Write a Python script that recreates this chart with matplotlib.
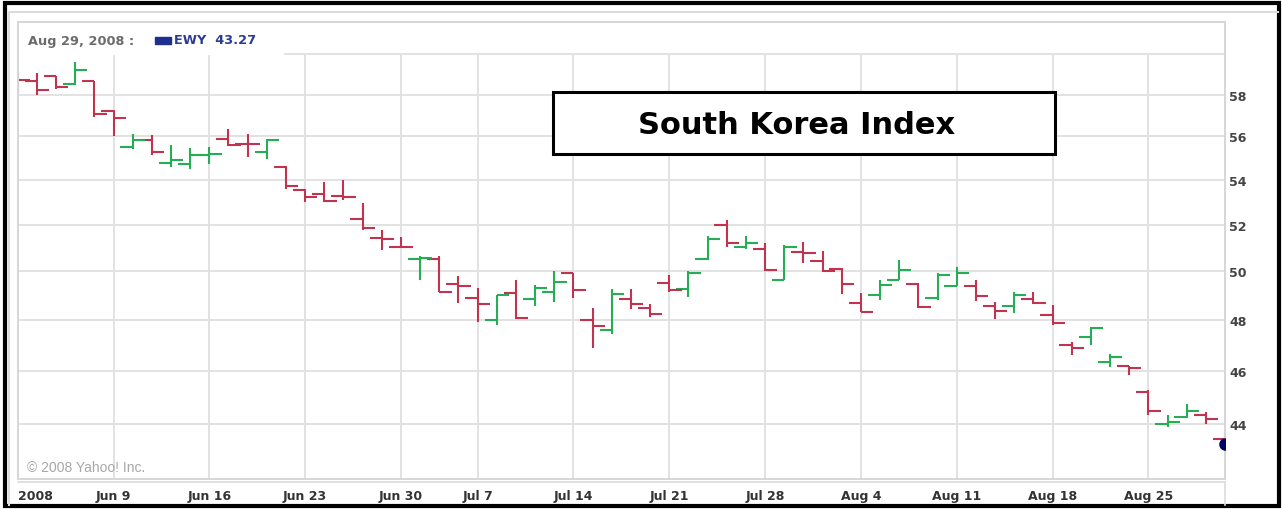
import matplotlib
matplotlib.use("Agg")
import matplotlib.pyplot as plt
from matplotlib.patches import Rectangle
from matplotlib.lines import Line2D
from matplotlib.ticker import NullLocator

# EWY daily OHLC, Jun 2 - Aug 29 2008 (trading days)
opens = [58.90, 58.69, 58.90, 58.52, 58.69, 57.19, 55.49, 55.81, 54.78, 54.70,
         55.13, 55.86, 55.66, 55.27, 54.58, 53.52, 53.38, 53.29, 52.25, 51.44,
         51.05, 50.53, 50.53, 49.47, 48.91, 48.00, 49.10, 48.84, 49.16, 49.95,
         48.01, 47.58, 48.84, 48.48, 49.53, 49.28, 50.53, 51.99, 51.04, 50.93,
         49.66, 50.82, 50.45, 50.10, 48.70, 49.00, 49.66, 49.48, 48.89, 49.41,
         49.41, 48.56, 48.56, 48.86, 48.21, 47.01, 47.33, 46.33, 46.17, 45.17,
         44.00, 44.23, 44.33, 43.42]
highs = [59.13, 59.07, 58.90, 59.63, 58.69, 57.24, 56.12, 56.07, 55.58, 55.46,
         55.51, 56.36, 56.12, 55.86, 54.63, 53.59, 53.92, 54.00, 52.97, 51.79,
         51.46, 50.65, 50.67, 49.82, 49.30, 49.03, 49.62, 49.44, 50.00, 49.95,
         48.48, 49.25, 49.25, 48.66, 49.85, 50.00, 51.50, 52.22, 51.53, 51.22,
         51.13, 51.27, 50.86, 50.13, 49.11, 49.65, 50.46, 49.50, 49.92, 50.18,
         49.62, 48.73, 49.16, 49.14, 48.59, 47.14, 47.71, 46.66, 46.20, 45.25,
         44.33, 44.72, 44.43, 43.69]
lows = [58.07, 57.99, 58.28, 58.47, 56.92, 56.04, 55.43, 55.12, 54.58, 54.47,
        54.73, 55.55, 55.04, 54.97, 53.56, 53.00, 53.00, 53.07, 51.79, 50.89,
        51.00, 49.66, 49.14, 48.70, 47.93, 47.81, 48.05, 48.56, 48.75, 48.89,
        46.88, 47.45, 48.45, 48.11, 49.14, 48.93, 50.50, 51.03, 50.96, 50.00,
        49.64, 50.36, 49.99, 49.07, 48.32, 48.82, 49.64, 48.49, 48.82, 49.39,
        48.79, 48.04, 48.29, 48.66, 47.80, 46.62, 46.99, 46.13, 45.84, 44.33,
        43.87, 44.21, 43.99, 43.10]
closes = [58.74, 58.21, 58.36, 59.23, 57.05, 56.87, 55.81, 55.27, 54.92, 55.15,
          55.19, 55.61, 55.63, 55.81, 53.74, 53.22, 53.03, 53.22, 51.85, 51.37,
          51.02, 50.57, 49.16, 49.41, 48.65, 49.00, 48.07, 49.30, 49.55, 49.23,
          47.76, 49.08, 48.65, 48.26, 49.21, 49.92, 51.39, 51.19, 51.19, 50.05,
          51.04, 50.79, 50.00, 49.48, 48.33, 49.45, 50.06, 48.51, 49.85, 49.93,
          48.96, 48.38, 49.03, 48.70, 47.88, 46.90, 47.68, 46.53, 46.12, 44.45,
          44.05, 44.47, 44.17, 43.27]

# week starts (index of trading day) and their labels
week_idx = [0, 5, 10, 15, 20, 24, 29, 34, 39, 44, 49, 54, 59]
week_labels = ["2008", "Jun 9", "Jun 16", "Jun 23", "Jun 30", "Jul 7", "Jul 14",
               "Jul 21", "Jul 28", "Aug 4", "Aug 11", "Aug 18", "Aug 25"]
y_ticks = [44, 46, 48, 50, 52, 54, 56, 58]
grid_levels = [44, 46, 48, 50, 52, 54, 56, 58, 60]

RED = "#c23350"
GREEN = "#27ad55"
GRID = "#e2e2e2"
W, H = 1282, 510


def fx(x):
    return x / W


def fy(y):
    return 1 - y / H


fig = plt.figure(figsize=(12.82, 5.10), dpi=100)

ax = fig.add_axes([fx(17.7), fy(480), fx(1225) - fx(17.7), fy(23) - fy(480)])
ax.set_yscale("log")
ax.set_xlim(0, 63)
ax.set_ylim(42.0, 61.65)

for lv in grid_levels:
    ax.axhline(lv, color=GRID, lw=1.4, zorder=0)
ax.vlines(week_idx[1:], 42.0, 60, color=GRID, lw=1.4, zorder=0)

days = list(range(len(opens)))
colors = [GREEN if c > o else RED for o, c in zip(opens, closes)]
tick = 0.64
ax.vlines(days, lows, highs, colors=colors, lw=1.5, zorder=2)
ax.hlines(opens, [d - tick for d in days], days, colors=colors, lw=1.5, zorder=2)
ax.hlines(closes, days, [d + tick for d in days], colors=colors, lw=1.5, zorder=2)

ax.plot(days[-1], closes[-1], "o", color="#000066", ms=8, zorder=3, clip_on=True)

for s in ax.spines.values():
    s.set_color("#d6d6d6")
    s.set_linewidth(1.4)

ax.yaxis.tick_right()
ax.yaxis.set_minor_locator(NullLocator())
ax.set_yticks(y_ticks)
ax.set_yticklabels([str(v) for v in y_ticks], fontsize=9,
                   fontweight="bold", color="#444444")
ax.tick_params(axis="y", length=0, pad=3)

ax.set_xticks(week_idx)
ax.set_xticklabels(week_labels, fontsize=9, fontweight="bold", color="#333333")
ax.tick_params(axis="x", length=0, pad=7)
ax.get_xticklabels()[0].set_ha("left")

# header with last quote
ax.add_patch(Rectangle((0.0, 0.93), 0.22, 0.07, transform=ax.transAxes,
                       color="white", zorder=1))
fig.text(fx(28), fy(41), "Aug 29, 2008 :", fontsize=9.3, fontweight="bold",
         color="#6b6b6b", va="center")
fig.add_artist(Rectangle((fx(155), fy(45)), fx(16), fy(38) - fy(45),
                         transform=fig.transFigure, color="#1f2f8f"))
fig.text(fx(174), fy(41), "EWY  43.27", fontsize=9.3, fontweight="bold",
         color="#2b3c96", va="center")

fig.text(fx(27), fy(468), "\u00a9 2008 Yahoo! Inc.", fontsize=10,
         family="Liberation Sans", color="#a8a8a8", va="center")

# title box
fig.add_artist(Rectangle((fx(553), fy(155)), fx(502), fy(93) - fy(155),
                         transform=fig.transFigure, facecolor="white",
                         edgecolor="black", lw=2.2, zorder=5))
fig.text(fx(797), fy(125), "South Korea Index", fontsize=22, fontweight="bold",
         ha="center", va="center", zorder=6)

# panel borders and outer frame
fig.add_artist(Line2D([fx(17.7), fx(1225)], [fy(483), fy(483)],
                      transform=fig.transFigure, color="#dcdcdc", lw=1.2))
fig.add_artist(Line2D([fx(1225), fx(1225)], [fy(483), fy(506)],
                      transform=fig.transFigure, color="#dcdcdc", lw=1.2))
fig.add_artist(Line2D([fx(9), fx(9)], [fy(13), fy(506)],
                      transform=fig.transFigure, color="#dcdcdc", lw=1.5))
fig.add_artist(Line2D([fx(9), fx(1278)], [fy(13), fy(13)],
                      transform=fig.transFigure, color="#dcdcdc", lw=1.5))
fig.add_artist(Rectangle((fx(5), fy(507)), fx(1274), fy(4) - fy(507),
                         transform=fig.transFigure, fill=False,
                         edgecolor="black", lw=3))

fig.savefig("out.png", dpi=100)
plt.close(fig)
